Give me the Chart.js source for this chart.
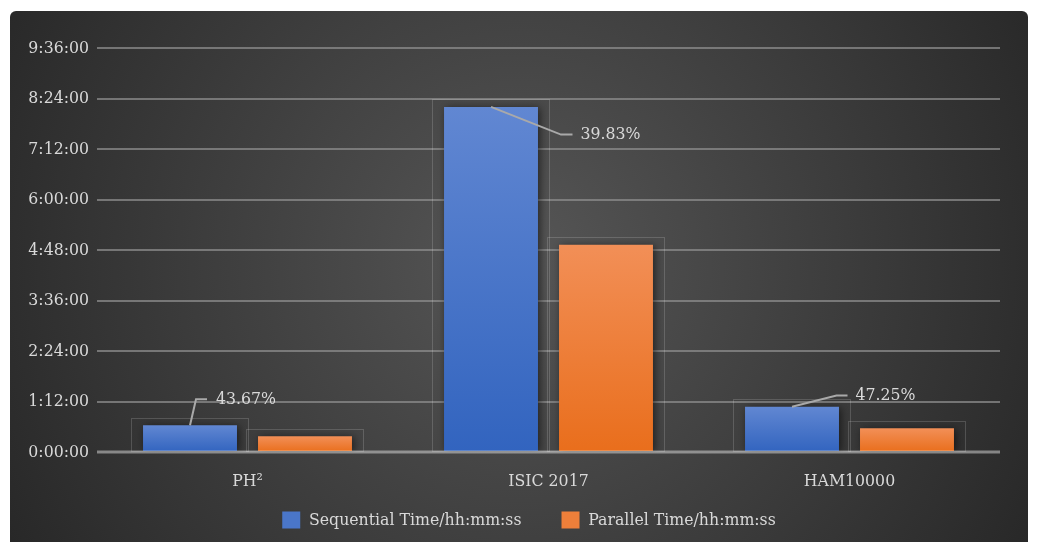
<!DOCTYPE html>
<html><head><meta charset="utf-8">
<script src="https://cdn.jsdelivr.net/npm/chart.js@4/dist/chart.umd.min.js"></script>
<style>html,body{margin:0;padding:0;background:#fff;overflow:hidden}#wrap{width:1037px;height:542px;position:relative}canvas{display:block}</style>
</head><body><div id="wrap"><canvas id="c" width="1037" height="542"></canvas></div>
<script>
// ---- data ----
const categories = ['PH²', 'ISIC 2017', 'HAM10000'];
const seriesNames = ['Sequential Time/hh:mm:ss', 'Parallel Time/hh:mm:ss'];
const sequentialMinutes = [38.0, 492.0, 64.5];
const parallelMinutes = [22.3, 295.4, 33.7];
const reductionLabels = ['43.67%', '39.83%', '47.25%'];
const yTickValues = [0, 72, 144, 216, 288, 360, 432, 504, 576];
const yTickLabels = ['0:00:00', '1:12:00', '2:24:00', '3:36:00', '4:48:00', '6:00:00', '7:12:00', '8:24:00', '9:36:00'];

// ---- style ----
const FONT = "'DejaVu Serif Condensed', 'DejaVu Serif', serif";
const TEXT = '#d9d9d9';
const FS = 17.5;
const blueTop = '#6187d2', blueBot = '#3264bf';
const orangeTop = '#f28f57', orangeBot = '#e96e1c';
const leaderStyle = [
  {p1: [6, -26], p2: [17, -26], t: [26, -26]},
  {p1: [70, 27.7], p2: [81.5, 27.7], t: [89.5, 27.7]},
  {p1: [44.5, -11.3], p2: [55.5, -11.3], t: [63.5, -11.3]}
];
const LEGEND_SHIFT = 24;
const LEGEND_TOP_GAP = 19.25;

function barGradient(top, bot) {
  return function (c) {
    const chart = c.chart;
    if (c.type !== 'data' || !chart.chartArea) return bot;
    const ys = chart.scales.y;
    const y0 = ys.getPixelForValue(c.raw), y1 = ys.getPixelForValue(0);
    const g = chart.ctx.createLinearGradient(0, y0, 0, y1);
    g.addColorStop(0, top); g.addColorStop(1, bot);
    return g;
  };
}

const panelPlugin = {
  id: 'panel',
  beforeDraw(chart) {
    const ctx = chart.ctx; ctx.save();
    ctx.fillStyle = '#ffffff'; ctx.fillRect(0, 0, chart.width, chart.height);
    const g = ctx.createRadialGradient(520, 260, 0, 520, 260, 620);
    g.addColorStop(0, '#565656'); g.addColorStop(1, '#252525');
    ctx.fillStyle = g; ctx.beginPath(); ctx.roundRect(10, 11, 1018, 560, 6); ctx.fill();
    ctx.restore();
  },
  afterLayout(chart) {
    const L = chart.legend;
    if (L) {
      L.left += LEGEND_SHIFT; L.right += LEGEND_SHIFT;
      L.top = chart.chartArea.bottom + LEGEND_TOP_GAP;
      L.bottom = chart.height;
    }
  },
  beforeDatasetsDraw(chart) {
    const ctx = chart.ctx;
    ctx.save();
    ctx.strokeStyle = 'rgba(255,255,255,0.16)'; ctx.lineWidth = 1;
    chart.data.datasets.forEach((d, i) => {
      chart.getDatasetMeta(i).data.forEach(b => {
        const l = b.x - b.width / 2 - 12, r = b.x + b.width / 2 + 11;
        const t = b.y - 7.5;
        ctx.strokeRect(Math.round(l) + 0.5, Math.round(t) + 0.5, Math.round(r - l), Math.round(b.base - t));
      });
    });
    ctx.restore();
    ctx.save();
    ctx.shadowColor = 'rgba(0,0,0,0.55)'; ctx.shadowBlur = 8; ctx.shadowOffsetX = 2; ctx.shadowOffsetY = 1;
  },
  afterDatasetsDraw(chart) {
    const ctx = chart.ctx;
    ctx.restore();
    ctx.save();
    const ys = chart.scales.y, a = chart.chartArea;
    const y0 = ys.getPixelForValue(0);
    ctx.strokeStyle = 'rgba(255,255,255,0.42)'; ctx.lineWidth = 3;
    ctx.beginPath(); ctx.moveTo(a.left, y0); ctx.lineTo(a.right, y0); ctx.stroke();
    const meta = chart.getDatasetMeta(0);
    ctx.font = FS + 'px ' + FONT; ctx.textBaseline = 'middle'; ctx.textAlign = 'left';
    meta.data.forEach((b, j) => {
      const s = leaderStyle[j];
      ctx.strokeStyle = '#a9a9a9'; ctx.lineWidth = 2;
      ctx.beginPath();
      ctx.moveTo(b.x, b.y);
      ctx.lineTo(b.x + s.p1[0], b.y + s.p1[1]);
      ctx.lineTo(b.x + s.p2[0], b.y + s.p2[1]);
      ctx.stroke();
      ctx.fillStyle = TEXT;
      ctx.fillText(reductionLabels[j], b.x + s.t[0], b.y + s.t[1]);
    });
    ctx.restore();
  }
};

Chart.defaults.font.family = FONT;
Chart.defaults.font.size = FS;
Chart.defaults.color = TEXT;

new Chart(document.getElementById('c'), {
  type: 'bar',
  data: {
    labels: categories,
    datasets: [
      {label: seriesNames[0], data: sequentialMinutes, backgroundColor: barGradient(blueTop, blueBot), borderWidth: 0},
      {label: seriesNames[1], data: parallelMinutes, backgroundColor: barGradient(orangeTop, orangeBot), borderWidth: 0}
    ]
  },
  options: {
    responsive: false, animation: false, devicePixelRatio: 1,
    categoryPercentage: 0.764, barPercentage: 0.817,
    layout: {padding: {left: 10, right: 37, top: 48, bottom: -36.5}},
    plugins: {
      tooltip: {enabled: false},
      legend: {
        position: 'bottom',
        labels: {
          color: TEXT, boxWidth: 18, boxHeight: 17, padding: 40,
          generateLabels(chart) {
            return chart.data.datasets.map((d, i) => ({
              text: d.label, fillStyle: i === 0 ? '#4a76c9' : '#ee7f3a', strokeStyle: 'transparent', lineWidth: 0,
              hidden: false, datasetIndex: i, fontColor: TEXT
            }));
          }
        }
      }
    },
    scales: {
      x: {
        grid: {display: false, drawTicks: false}, border: {display: false},
        ticks: {color: TEXT, padding: 19, font: {size: FS}}
      },
      y: {
        min: 0, max: 576,
        afterBuildTicks(s) { s.ticks = yTickValues.map(v => ({value: v})); },
        afterFit(s) { s.width = 87; },
        border: {display: false},
        grid: {
          drawTicks: false,
          color: c => c.tick && c.tick.value === 0 ? 'rgba(0,0,0,0)' : 'rgba(140,140,140,0.75)',
          lineWidth: 2
        },
        ticks: {
          color: TEXT, padding: 8, font: {size: FS},
          callback: v => yTickLabels[yTickValues.indexOf(v)]
        }
      }
    }
  },
  plugins: [panelPlugin]
});
</script>
</body></html>
